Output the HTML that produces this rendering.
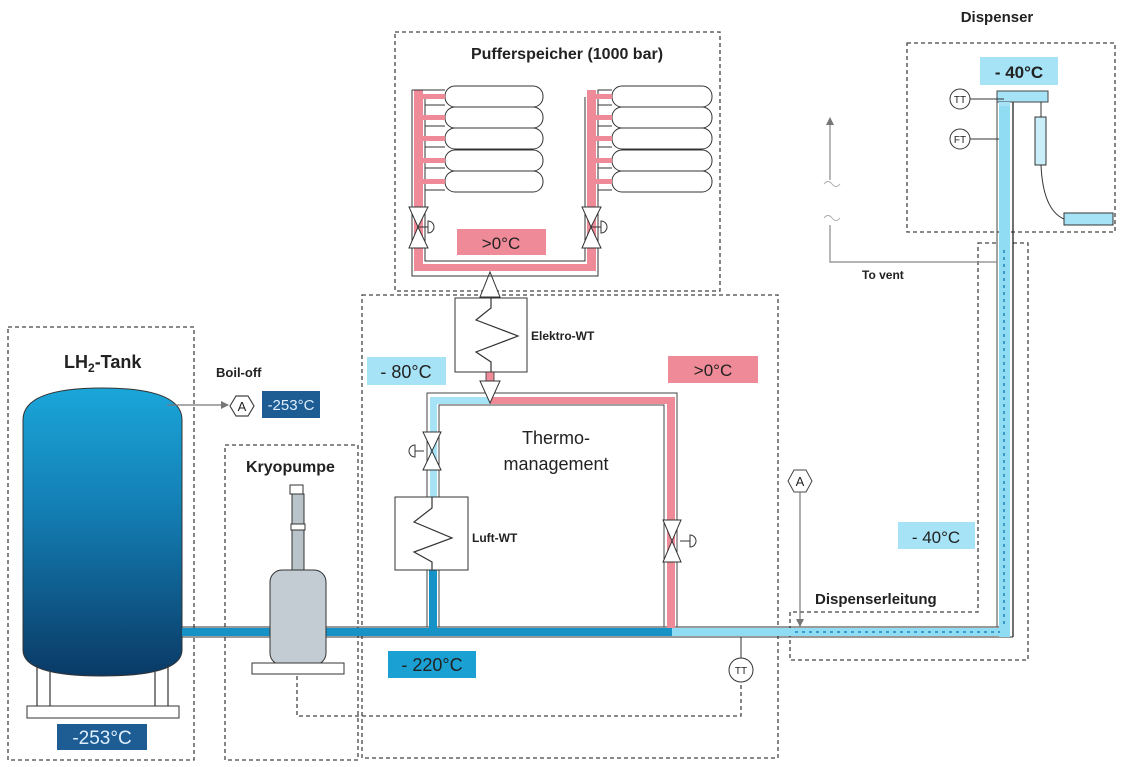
<!DOCTYPE html>
<html><head><meta charset="utf-8"><style>
body{margin:0;background:#fff}
svg{display:block}
text{font-family:"Liberation Sans",sans-serif;fill:#222}
.b{font-weight:bold}
</style></head><body>
<svg width="1123" height="767" viewBox="0 0 1123 767" xmlns="http://www.w3.org/2000/svg">
<defs>
<linearGradient id="tg" x1="0" y1="0" x2="0" y2="1">
<stop offset="0" stop-color="#1aa6da"/><stop offset="0.45" stop-color="#137bb0"/><stop offset="1" stop-color="#0a3a66"/>
</linearGradient>
<marker id="ga" markerWidth="8" markerHeight="8" refX="7" refY="4" orient="auto" markerUnits="userSpaceOnUse"><path d="M0,0 L8,4 L0,8z" fill="#777"/></marker>
</defs>
<g fill="none" stroke="#444" stroke-width="1.3" stroke-dasharray="4,3">
<rect x="8" y="327" width="186" height="433"/>
<rect x="225" y="445" width="133" height="315"/>
<rect x="362" y="295" width="416" height="463"/>
<rect x="395" y="32" width="325" height="259"/>
<rect x="907" y="43" width="208" height="189"/>
<path d="M978,243 H1028 V660 H790 V612 H978 Z"/>
<path d="M297,676 V716 H741 V682"/>
</g>

<!-- Tank -->
<path d="M23,420 Q23,388 102,388 Q182,388 182,420 V650 Q182,676 102,676 Q23,676 23,650 Z" fill="url(#tg)" stroke="#333" stroke-width="1"/>
<g stroke="#333" stroke-width="1.2"><line x1="37" y1="665" x2="37" y2="706"/><line x1="50" y1="672" x2="50" y2="706"/><line x1="155" y1="672" x2="155" y2="706"/><line x1="168" y1="665" x2="168" y2="706"/></g>
<rect x="27" y="706" width="152" height="12" fill="#fff" stroke="#333"/>
<rect x="57" y="724" width="90" height="26" fill="#1d5d94"/>
<text x="102" y="744" font-size="19" text-anchor="middle" fill="#fff" style="fill:#dfefff">-253°C</text>
<text x="64" y="368" font-size="18" class="b">LH<tspan font-size="12" dy="4">2</tspan><tspan dy="-4">-Tank</tspan></text>

<!-- Boil-off -->
<text x="216" y="377" font-size="13" class="b">Boil-off</text>
<line x1="167" y1="405" x2="228" y2="405" stroke="#777" stroke-width="1.2" marker-end="url(#ga)"/>
<polygon points="230,406 236,396 248,396 254,406 248,416 236,416" fill="#fff" stroke="#444" stroke-width="1.2"/>
<text x="242" y="411" font-size="13" text-anchor="middle">A</text>
<rect x="262" y="391" width="58" height="27" fill="#1d5d94"/>
<text x="291" y="410" font-size="15" text-anchor="middle" style="fill:#dfefff">-253°C</text>

<!-- main pipe -->
<rect x="182" y="628" width="490" height="8" fill="#1592c6"/>
<rect x="672" y="628" width="338" height="8" fill="#8fdcf3"/>
<line x1="182" y1="627" x2="1000" y2="627" stroke="#333" stroke-width="1"/>
<line x1="182" y1="637" x2="1013" y2="637" stroke="#333" stroke-width="1"/>
<!-- vertical dispenser pipe -->
<rect x="999" y="91" width="11" height="546" fill="#8fdcf3"/>
<line x1="997" y1="91" x2="997" y2="627" stroke="#444" stroke-width="1"/>
<line x1="1013" y1="102" x2="1013" y2="637" stroke="#111" stroke-width="1.2"/>
<line x1="1004" y1="250" x2="1004" y2="625" stroke="#3a9ac8" stroke-width="2" stroke-dasharray="3,4"/>
<line x1="795" y1="632" x2="1000" y2="632" stroke="#3a9ac8" stroke-width="2" stroke-dasharray="3,4"/>

<!-- Pump -->
<rect x="290" y="485" width="13" height="9" fill="#fff" stroke="#333"/>
<rect x="292" y="494" width="12" height="76" fill="#b9c3ca" stroke="#333"/>
<rect x="291" y="524" width="14" height="6" fill="#fff" stroke="#333"/>
<rect x="270" y="570" width="56" height="95" rx="12" fill="#c3ccd2" stroke="#333"/>
<rect x="252" y="663" width="92" height="11" fill="#fff" stroke="#333"/>
<text x="246" y="472" font-size="16" class="b">Kryopumpe</text>

<!-- Thermo -->
<rect x="388" y="651" width="88" height="27" fill="#1aa0d3"/>
<text x="432" y="671" font-size="18" text-anchor="middle">- 220°C</text>
<rect x="367" y="357" width="79" height="28" fill="#a6e3f6"/>
<text x="406" y="378" font-size="18" text-anchor="middle">- 80°C</text>
<rect x="668" y="356" width="90" height="27" fill="#ef8a98"/>
<text x="713" y="376" font-size="17" text-anchor="middle">&gt;0°C</text>

<!-- loop pipes -->
<rect x="432" y="397" width="58" height="7" fill="#a6e3f6"/>
<rect x="490" y="397" width="182" height="7" fill="#ef8a98"/>
<rect x="667" y="397" width="8" height="231" fill="#ef8a98"/>
<rect x="430" y="397" width="7" height="100" fill="#a6e3f6"/>
<rect x="429" y="570" width="8" height="58" fill="#1592c6"/>
<g fill="none" stroke="#444" stroke-width="1">
<path d="M427,497 V393 H677 V627"/>
<path d="M439,497 V405 H664 V627"/>
<path d="M427,570 V627 M439,570 V627"/>
</g>
<!-- valves -->
<g fill="#fff" stroke="#333" stroke-width="1">
<polygon points="423,432 441,432 432,451"/><polygon points="423,470 441,470 432,451"/>
<path d="M424,451 H415 M415,445 A6,6 0 0,0 415,457 Z"/>
<polygon points="663,520 681,520 672,541"/><polygon points="663,562 681,562 672,541"/>
<path d="M680,541 H690 M690,535 A6,6 0 0,1 690,547 Z"/>
</g>
<!-- Luft-WT -->
<rect x="395" y="497" width="73" height="73" fill="#fff" stroke="#333"/>
<polyline points="432,497 432,508 414,522 452,538 414,552 432,562 432,570" fill="none" stroke="#333" stroke-width="1.2"/>
<text x="472" y="542" font-size="12" class="b">Luft-WT</text>
<!-- Elektro-WT -->
<rect x="486" y="290" width="8" height="8" fill="#ef8a98"/>
<rect x="455" y="298" width="72" height="74" fill="#fff" stroke="#333"/>
<polyline points="491,298 491,308 476,320 518,336 476,352 491,362 491,372" fill="none" stroke="#333" stroke-width="1.2"/>
<text x="531" y="340" font-size="12" class="b">Elektro-WT</text>
<rect x="486" y="372" width="8" height="9" fill="#ef8a98" stroke="#333" stroke-width="0.8"/>
<polygon points="480,381 500,381 490,403" fill="#fff" stroke="#333"/>
<polygon points="480,297 500,297 490,272" fill="#fff" stroke="#333"/>
<text x="556" y="444" font-size="18" text-anchor="middle">Thermo-</text>
<text x="556" y="470" font-size="18" text-anchor="middle">management</text>

<!-- Puffer -->
<text x="567" y="59" font-size="16" class="b" text-anchor="middle">Pufferspeicher (1000 bar)</text>
<rect x="414" y="90" width="9" height="180" fill="#ef8a98"/>
<rect x="414" y="264" width="182" height="7" fill="#ef8a98"/>
<rect x="587" y="90" width="9" height="180" fill="#ef8a98"/>
<g fill="none" stroke="#333" stroke-width="1">
<path d="M412,90 H445 M412,90 V276 H598 V90 H612"/>
<path d="M425,97 V261 H585 V97"/>
</g>
<g id="tanks" fill="#fff" stroke="#333" stroke-width="1">
<rect x="445" y="86" width="98" height="21" rx="10"/>
<rect x="445" y="107" width="98" height="21" rx="10"/>
<rect x="445" y="128" width="98" height="21" rx="10"/>
<rect x="445" y="150" width="98" height="21" rx="10"/>
<rect x="445" y="171" width="98" height="21" rx="10"/>
<rect x="612" y="86" width="100" height="21" rx="10"/>
<rect x="612" y="107" width="100" height="21" rx="10"/>
<rect x="612" y="128" width="100" height="21" rx="10"/>
<rect x="612" y="150" width="100" height="21" rx="10"/>
<rect x="612" y="171" width="100" height="21" rx="10"/>
</g>
<g fill="#ef8a98">
<rect x="423" y="94" width="22" height="5"/><rect x="423" y="115" width="22" height="5"/><rect x="423" y="136" width="22" height="5"/><rect x="423" y="158" width="22" height="5"/><rect x="423" y="179" width="22" height="5"/>
<rect x="596" y="94" width="16" height="5"/><rect x="596" y="115" width="16" height="5"/><rect x="596" y="136" width="16" height="5"/><rect x="596" y="158" width="16" height="5"/><rect x="596" y="179" width="16" height="5"/>
</g>
<g stroke="#333" stroke-width="1">
<line x1="425" y1="105" x2="445" y2="105"/><line x1="425" y1="126" x2="445" y2="126"/><line x1="425" y1="147" x2="445" y2="147"/><line x1="425" y1="168" x2="445" y2="168"/><line x1="425" y1="190" x2="445" y2="190"/>
<line x1="598" y1="105" x2="612" y2="105"/><line x1="598" y1="126" x2="612" y2="126"/><line x1="598" y1="147" x2="612" y2="147"/><line x1="598" y1="168" x2="612" y2="168"/><line x1="598" y1="190" x2="612" y2="190"/>
</g>
<g fill="#fff" stroke="#333" stroke-width="1">
<polygon points="409,207 428,207 418,227"/><polygon points="409,248 428,248 418,227"/>
<path d="M418,227 H428 M428,221 A6,6 0 0,1 428,233 Z"/>
<polygon points="582,207 601,207 591,227"/><polygon points="582,248 601,248 591,227"/>
<path d="M591,227 H601 M601,221 A6,6 0 0,1 601,233 Z"/>
</g>
<rect x="457" y="229" width="89" height="26" fill="#ef8a98"/>
<text x="501" y="249" font-size="17" text-anchor="middle">&gt;0°C</text>

<!-- TT main -->
<line x1="741" y1="637" x2="741" y2="658" stroke="#333"/>
<circle cx="741" cy="670" r="12" fill="#fff" stroke="#333"/>
<text x="741" y="674" font-size="10" text-anchor="middle">TT</text>

<!-- A & Dispenserleitung -->
<polygon points="788,481 794,470 806,470 812,481 806,492 794,492" fill="#fff" stroke="#444"/>
<text x="800" y="486" font-size="13" text-anchor="middle">A</text>
<line x1="800" y1="492" x2="800" y2="626" stroke="#777" stroke-width="1.2" marker-end="url(#ga)"/>
<rect x="898" y="522" width="77" height="27" fill="#a6e3f6"/>
<text x="936" y="543" font-size="17" text-anchor="middle">- 40°C</text>
<text x="815" y="604" font-size="15" class="b">Dispenserleitung</text>

<!-- Vent -->
<path d="M997,262 H830 V225" fill="none" stroke="#888" stroke-width="1.2"/>
<path d="M824,218 q4,-5 8,0 t8,0" fill="none" stroke="#aaa"/>
<path d="M824,184 q4,-5 8,0 t8,0" fill="none" stroke="#aaa"/>
<line x1="830" y1="180" x2="830" y2="118" stroke="#888" stroke-width="1.2" marker-end="url(#ga)"/>
<text x="862" y="279" font-size="12" class="b">To vent</text>

<!-- Dispenser -->
<text x="997" y="22" font-size="15" class="b" text-anchor="middle">Dispenser</text>
<rect x="980" y="57" width="78" height="28" fill="#a6e3f6"/>
<text x="1019" y="78" font-size="17" text-anchor="middle" class="b">- 40°C</text>
<rect x="997" y="91" width="51" height="11" fill="#a6e3f6" stroke="#444"/>
<rect x="999" y="102" width="11" height="4" fill="#a6e3f6"/>
<line x1="1041" y1="102" x2="1041" y2="117" stroke="#333"/>
<rect x="1035" y="117" width="11" height="48" fill="#c9eef9" stroke="#333"/>
<path d="M1041,165 Q1043,210 1064,219" fill="none" stroke="#333"/>
<rect x="1064" y="213" width="49" height="12" fill="#a6e3f6" stroke="#333"/>
<line x1="970" y1="99" x2="1004" y2="99" stroke="#333"/>
<line x1="970" y1="139" x2="999" y2="139" stroke="#333"/>
<circle cx="960" cy="99" r="10" fill="#fff" stroke="#333"/>
<text x="960" y="103" font-size="10" text-anchor="middle">TT</text>
<circle cx="960" cy="139" r="10" fill="#fff" stroke="#333"/>
<text x="960" y="143" font-size="10" text-anchor="middle">FT</text>
</svg>
</body></html>
